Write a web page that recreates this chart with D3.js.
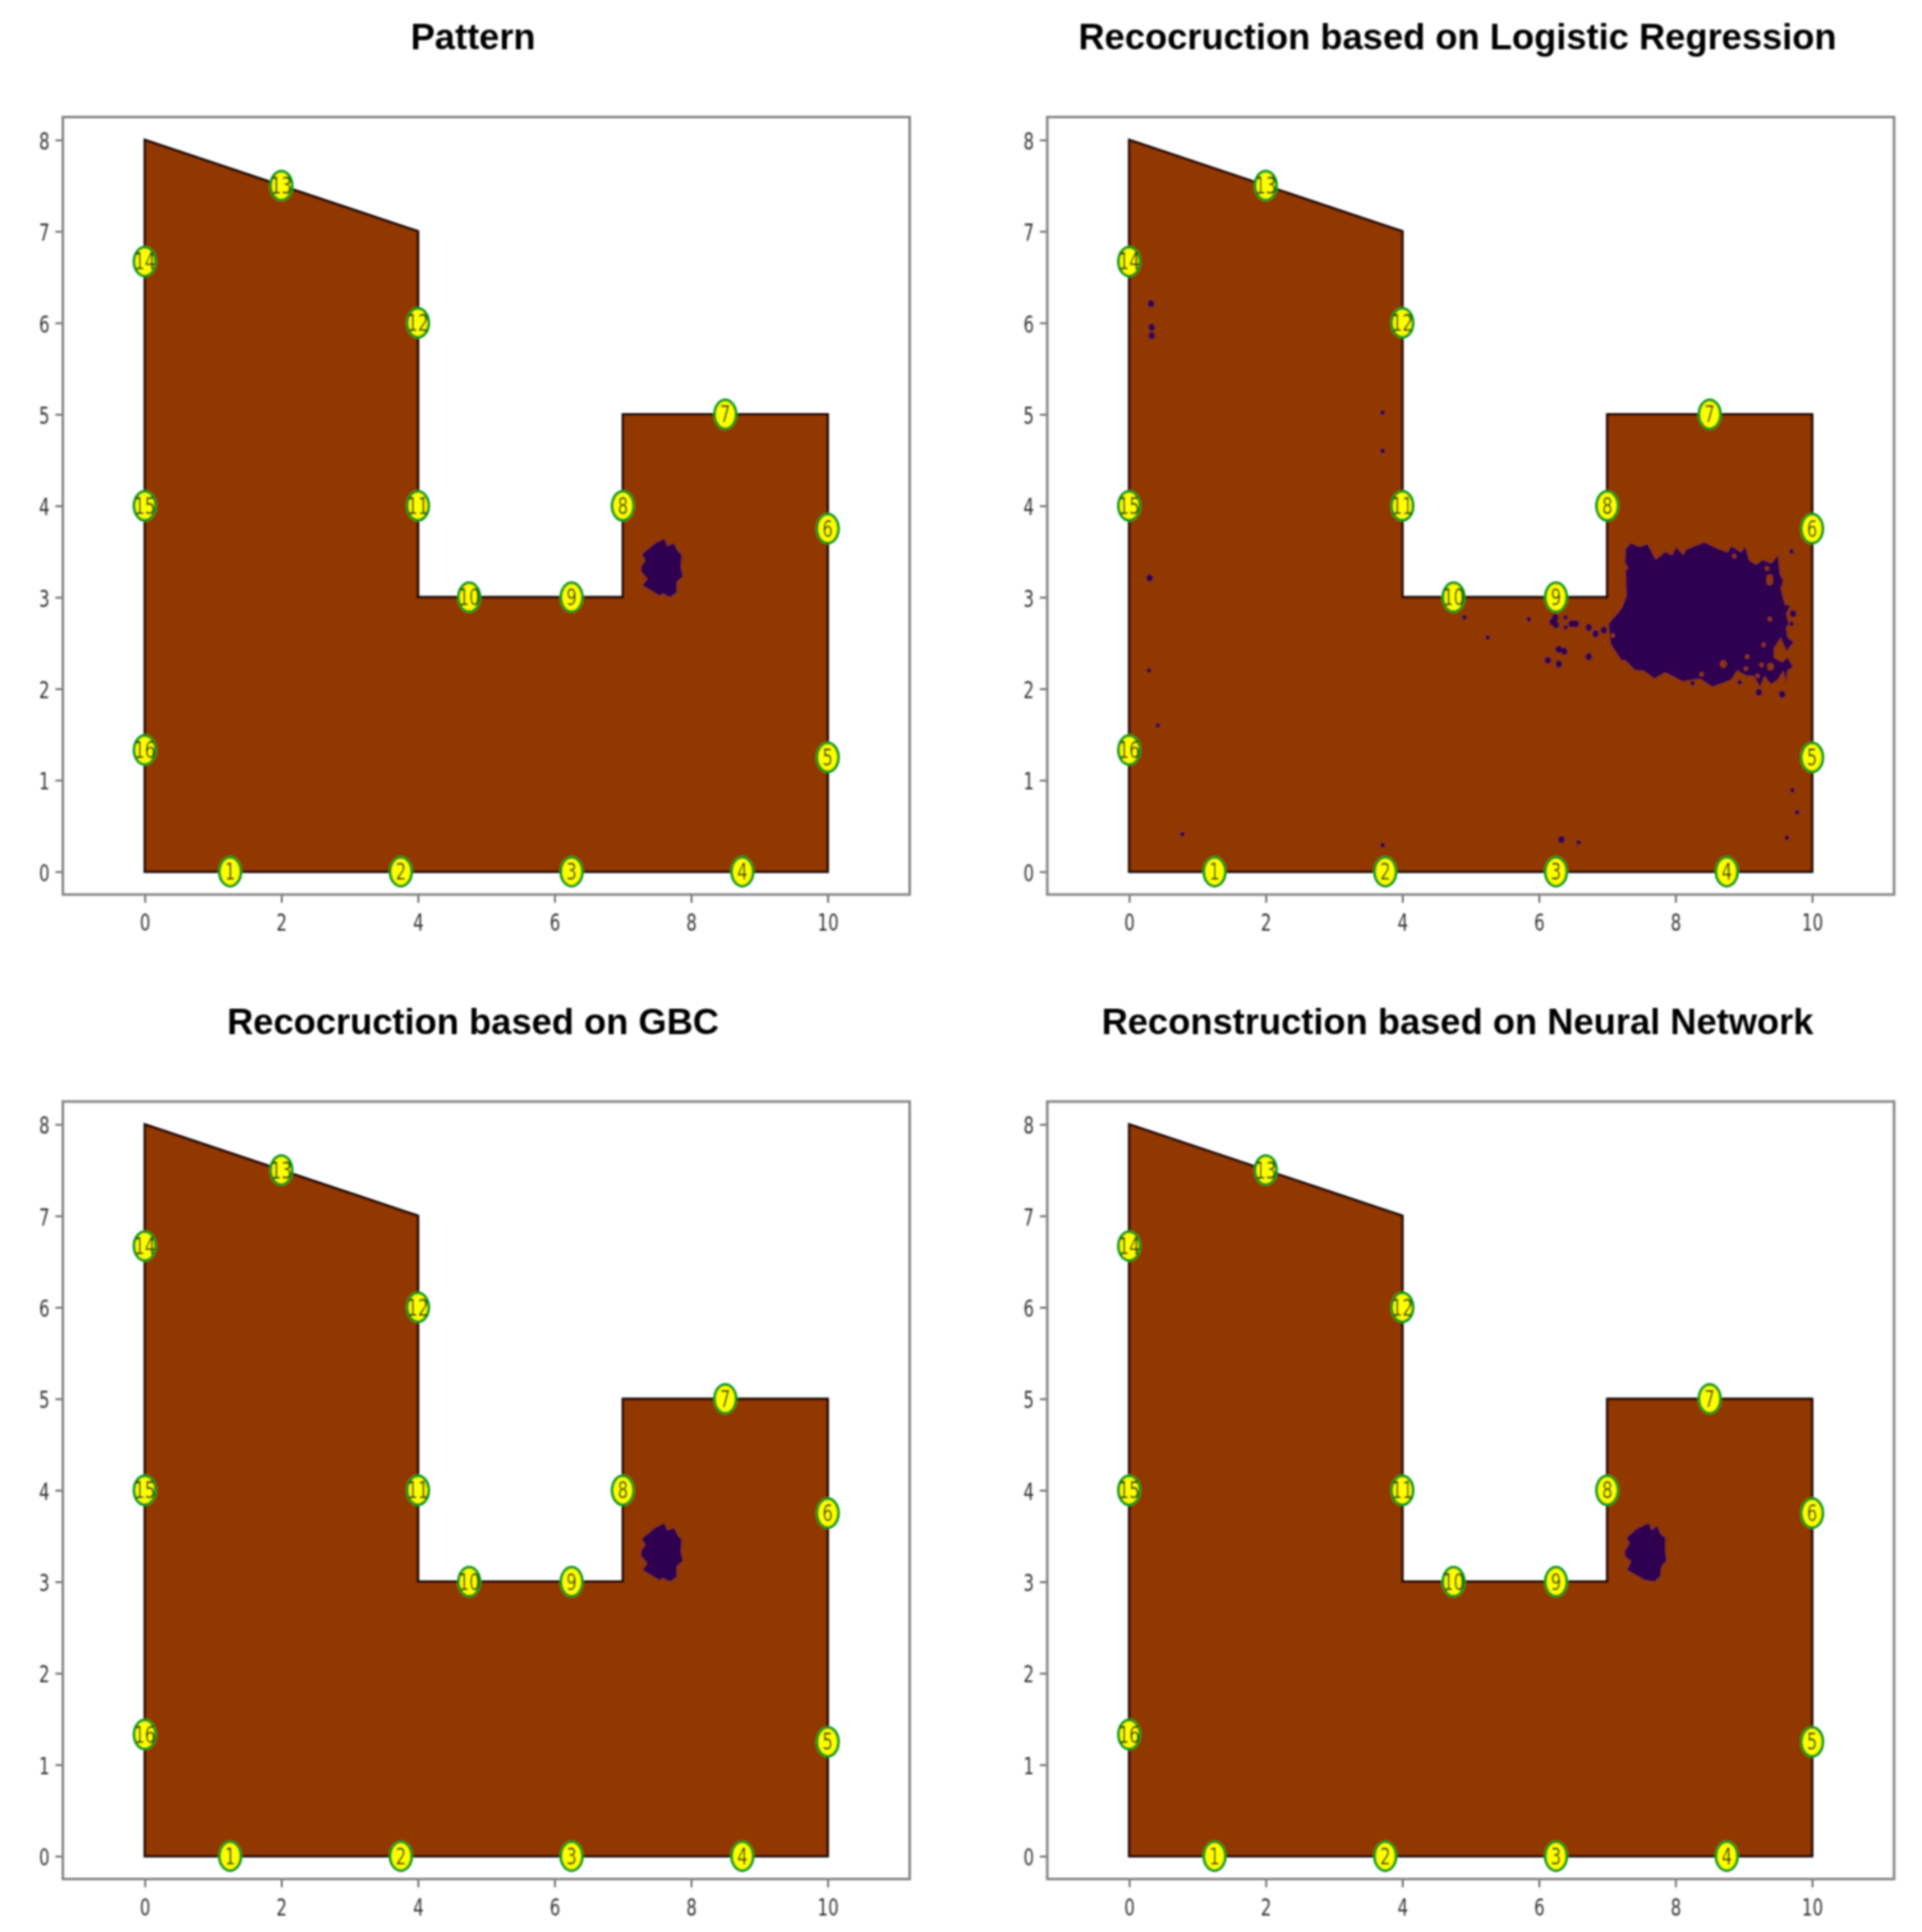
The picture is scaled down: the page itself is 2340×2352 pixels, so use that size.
<!DOCTYPE html>
<html>
<head>
<meta charset="utf-8">
<script src="https://cdn.jsdelivr.net/npm/d3@7"></script>
<style>
  body { margin: 0; background: #fff; }
  .title { font-family: "Liberation Sans", Arial, sans-serif; font-weight: bold; font-size: 44.2px; fill: #000; text-anchor: middle; }
  .tick text { font-family: "DejaVu Sans", sans-serif; font-size: 29px; fill: #333; }
  .num { font-family: "DejaVu Sans", sans-serif; font-size: 28px; fill: #000; fill-opacity: 0.85; text-anchor: middle; }
</style>
</head>
<body>
<div id="chart"></div>
<script>
// Titles of the four panels
var titles = [
  "Pattern",
  "Recocruction based on Logistic Regression",
  "Recocruction based on GBC",
  "Reconstruction based on Neural Network"
];

var xTicks = [0, 2, 4, 6, 8, 10];
var yTicks = [0, 1, 2, 3, 4, 5, 6, 7, 8];

// Outline of the plate
var plate = [[0, 0], [10, 0], [10, 5], [7, 5], [7, 3], [4, 3], [4, 7], [0, 8]];

// Numbered sensors around the edge
var sensors = [
  [1.25, 0], [3.75, 0], [6.25, 0], [8.75, 0], [10, 1.25], [10, 3.75], [8.5, 5], [7, 4],
  [6.25, 3], [4.75, 3], [4, 4], [4, 6], [2, 7.5], [0, 6.67], [0, 4], [0, 1.33]
];

// Defect shapes
var defectTrue = [
  [7.28, 3.47], [7.47, 3.59], [7.61, 3.64], [7.65, 3.56], [7.75, 3.59], [7.81, 3.50], [7.86, 3.47],
  [7.85, 3.32], [7.88, 3.23], [7.79, 3.17], [7.79, 3.05], [7.69, 3.00], [7.59, 3.04], [7.53, 3.02],
  [7.29, 3.13], [7.36, 3.20], [7.27, 3.28], [7.27, 3.34], [7.33, 3.40]
];
var defectNN = [
  [7.28, 3.48], [7.43, 3.58], [7.61, 3.64], [7.65, 3.565], [7.73, 3.61], [7.79, 3.51], [7.85, 3.49],
  [7.85, 3.33], [7.87, 3.24], [7.79, 3.16], [7.78, 3.06], [7.69, 3.00], [7.55, 3.02], [7.29, 3.13],
  [7.35, 3.22], [7.26, 3.28], [7.26, 3.34], [7.33, 3.42]
];
var defectLR = [
  [7.27, 3.53], [7.35, 3.59], [7.47, 3.55], [7.59, 3.58], [7.71, 3.41], [7.85, 3.50], [7.95, 3.46],
  [8.01, 3.55], [8.11, 3.46], [8.15, 3.52], [8.42, 3.60], [8.62, 3.53], [8.76, 3.49], [8.82, 3.56],
  [8.90, 3.52], [8.96, 3.49], [9.02, 3.555], [9.08, 3.40], [9.18, 3.355], [9.28, 3.41], [9.40, 3.37],
  [9.50, 3.46], [9.53, 3.25], [9.58, 3.175], [9.54, 3.10], [9.60, 2.92], [9.68, 2.91], [9.62, 2.82],
  [9.66, 2.71], [9.62, 2.67], [9.64, 2.56], [9.73, 2.51], [9.62, 2.41], [9.54, 2.56], [9.44, 2.44],
  [9.44, 2.34], [9.56, 2.29], [9.64, 2.34], [9.72, 2.24], [9.64, 2.20], [9.62, 2.07], [9.58, 2.20],
  [9.50, 2.10], [9.40, 2.05], [9.30, 2.14], [9.24, 2.02], [9.14, 2.14], [9.04, 2.14], [8.90, 2.20],
  [8.82, 2.10], [8.54, 2.02], [8.36, 2.11], [8.10, 2.08], [7.85, 2.18], [7.69, 2.11], [7.53, 2.20],
  [7.41, 2.20], [7.27, 2.31], [7.21, 2.31], [7.05, 2.49], [7.02, 2.71], [7.21, 2.875], [7.28, 3.01],
  [7.27, 3.29], [7.31, 3.32], [7.26, 3.38]
];
var defects = [defectTrue, defectLR, defectTrue, defectNN];

// Brown holes inside the large logistic regression blob
var lrHolesLarge = [[9.38, 3.21], [9.38, 3.17], [8.70, 2.27], [9.39, 2.24]];
var lrHolesSmall = [
  [9.34, 3.315], [9.38, 2.76], [9.29, 2.48], [9.05, 2.35], [9.26, 2.26],
  [9.03, 2.22], [9.20, 2.14], [8.86, 3.45], [8.38, 2.16], [7.08, 2.58]
];

// Stray misclassified spots in the logistic regression panel
var lrSpotsSmall = [
  [3.71, 5.02], [3.71, 4.60], [0.29, 2.20], [0.42, 1.60], [0.78, 0.41], [3.71, 0.29], [4.91, 2.78],
  [5.25, 2.56], [5.85, 2.76], [9.70, 3.50], [9.70, 2.71], [8.94, 2.07], [8.25, 2.06], [6.39, 2.78],
  [6.39, 2.67], [9.63, 0.37], [9.78, 0.65], [9.71, 0.89], [6.58, 0.32]
];
var lrSpotsMedium = [
  [0.32, 6.21], [0.33, 5.95], [0.33, 5.86], [0.30, 3.21], [6.33, 0.35], [9.72, 2.82], [9.22, 1.96],
  [9.56, 1.94], [6.73, 2.67], [6.83, 2.60], [6.95, 2.64], [6.13, 2.31], [6.29, 2.27], [6.73, 2.35],
  [6.20, 2.73], [6.25, 2.70], [6.24, 2.78], [6.48, 2.71], [6.54, 2.71], [6.29, 2.43], [6.37, 2.41]
];

var svgWidth = 2340;
var svgHeight = 2352;
var panelWidth = 1031;
var panelHeight = 946.5;
var panelLeft = [76.5, 1275, 76.5, 1275];
var panelTop = [142.5, 142.5, 1341, 1341];

var brown = "#913800";
var purple = "#2f004f";

var svg = d3.select("#chart")
  .append("svg")
  .attr("width", svgWidth)
  .attr("height", svgHeight);

svg.append("defs")
  .append("filter")
  .attr("id", "soft")
  .attr("filterUnits", "userSpaceOnUse")
  .attr("x", 0).attr("y", 0)
  .attr("width", svgWidth).attr("height", svgHeight)
  .append("feGaussianBlur")
  .attr("stdDeviation", 0.9);

var root = svg.append("g").attr("filter", "url(#soft)");

var xScale = d3.scaleLinear().domain([-1.2, 11.2]).range([0, panelWidth]);
var yScale = d3.scaleLinear().domain([-0.25, 8.25]).range([panelHeight, 0]);

var line = d3.line()
  .x(d => xScale(d[0]))
  .y(d => yScale(d[1]));

function drawSpots(group, spots, r, color) {
  group.selectAll(null)
    .data(spots)
    .enter()
    .append("ellipse")
    .attr("cx", d => xScale(d[0]))
    .attr("cy", d => yScale(d[1]))
    .attr("rx", r)
    .attr("ry", r * 1.1)
    .attr("fill", color);
}

titles.forEach(function (title, i) {
  var g = root.append("g")
    .attr("transform", `translate(${panelLeft[i]}, ${panelTop[i]})`);

  g.append("text")
    .attr("class", "title")
    .attr("x", panelWidth / 2 - 16)
    .attr("y", -82.5)
    .text(title);

  // Plate and defect
  g.append("path")
    .attr("d", line(plate) + "Z")
    .attr("fill", brown)
    .attr("stroke", "#120500")
    .attr("stroke-width", 3);

  g.append("path")
    .attr("d", line(defects[i]) + "Z")
    .attr("fill", purple);

  if (i == 1) {
    drawSpots(g, lrHolesLarge, 4, brown);
    drawSpots(g, lrHolesSmall, 2.5, brown);
    drawSpots(g, lrSpotsSmall, 2.6, purple);
    drawSpots(g, lrSpotsMedium, 4, purple);
  }

  // Axes
  var bottomAxis = d3.axisBottom(xScale).tickValues(xTicks).tickFormat(d3.format("d")).tickSizeOuter(0).tickSize(10);
  var leftAxis = d3.axisLeft(yScale).tickValues(yTicks).tickFormat(d3.format("d")).tickSizeOuter(0).tickSize(9);

  var xAxisGroup = g.append("g")
    .attr("transform", `translate(0, ${panelHeight})`)
    .call(bottomAxis);
  xAxisGroup.selectAll("text")
    .attr("y", 0)
    .attr("dy", 0)
    .attr("transform", "translate(0, 44) scale(0.7, 1)");

  var yAxisGroup = g.append("g").call(leftAxis);
  yAxisGroup.selectAll("text")
    .attr("x", 0)
    .attr("dy", 0)
    .attr("transform", "translate(-16, 11) scale(0.7, 1)");

  g.selectAll(".tick line").attr("stroke", "#555").attr("stroke-width", 2);
  g.selectAll(".domain").remove();

  g.append("rect")
    .attr("width", panelWidth)
    .attr("height", panelHeight)
    .attr("fill", "none")
    .attr("stroke", "#808080")
    .attr("stroke-width", 3);

  // Sensors
  var marks = g.selectAll(".sensor")
    .data(sensors)
    .enter()
    .append("g")
    .attr("class", "sensor")
    .attr("transform", d => `translate(${xScale(d[0])}, ${yScale(d[1])})`);

  marks.append("ellipse")
    .attr("rx", 13)
    .attr("ry", 17.5)
    .attr("fill", "#ffff00")
    .attr("stroke", "#009a1e")
    .attr("stroke-width", 3.5);

  marks.append("text")
    .attr("class", "num")
    .attr("transform", "translate(0, 10) scale(0.72, 1)")
    .text((d, k) => k + 1);
});
</script>
</body>
</html>
